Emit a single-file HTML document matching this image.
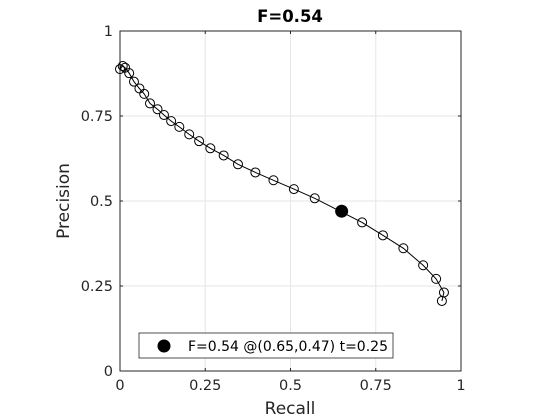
<!DOCTYPE html>
<html><head><meta charset="utf-8"><style>
body{margin:0;background:#fff;}
svg{display:block;font-family:"DejaVu Sans","Liberation Sans",sans-serif;}
</style></head><body>
<svg id="chart" width="560" height="420" viewBox="0 0 560 420" xmlns="http://www.w3.org/2000/svg">
<rect width="560" height="420" fill="#fff"/>
<g id="grid"></g>
<g id="axes"></g>
<g id="marks"></g>
<text x="290" y="22" text-anchor="middle" font-size="16.5" font-weight="bold">F=0.54</text>
<text x="290" y="414" text-anchor="middle" font-size="17" fill="#262626">Recall</text>
<text transform="translate(69,201) rotate(-90)" text-anchor="middle" font-size="17" fill="#262626">Precision</text>
<g>
<rect x="139" y="333" width="254" height="25" fill="#fff" stroke="#262626" stroke-width="0.8"/>
<circle cx="164" cy="346" r="6.5" fill="#000"/>
<text x="188" y="351" font-size="14" textLength="200" fill="#000">F=0.54 @(0.65,0.47) t=0.25</text>
</g>
</svg>
<script>
const recall=[0.000,0.008,0.015,0.027,0.041,0.057,0.071,0.088,0.110,0.129,0.150,0.174,0.203,0.232,0.265,0.304,0.346,0.397,0.450,0.510,0.571,0.710,0.771,0.831,0.889,0.927,0.950,0.944];
const precision=[0.888,0.897,0.892,0.876,0.851,0.831,0.815,0.787,0.770,0.753,0.735,0.718,0.696,0.676,0.655,0.634,0.608,0.584,0.561,0.535,0.508,0.437,0.399,0.361,0.311,0.271,0.231,0.206];
const bestPoint=[0.65,0.47];
const ticks=[0,0.25,0.5,0.75,1];
const tickLabels=["0","0.25","0.5","0.75","1"];
const NS="http://www.w3.org/2000/svg";
const X0=120,X1=461,Y0=371,Y1=31;
const sx=v=>X0+v*(X1-X0), sy=v=>Y0-v*(Y0-Y1);
function mk(t,a,p){const e=document.createElementNS(NS,t);for(const k in a)e.setAttribute(k,a[k]);p.appendChild(e);return e;}
const grid=document.getElementById('grid'),axes=document.getElementById('axes'),marks=document.getElementById('marks');
ticks.forEach((t,i)=>{
  const gx=mk('line',{x1:sx(t),x2:sx(t),y1:Y0,y2:Y1,stroke:'#e6e6e6','stroke-width':1},grid);
  
  
  const gy=mk('line',{x1:X0,x2:X1,y1:sy(t),y2:sy(t),stroke:'#e6e6e6','stroke-width':1},grid);
  
  
  const xl=mk('text',{x:sx(t),y:Y0+19,'text-anchor':'middle','font-size':14.5,fill:'#262626'},axes);
  xl.textContent=tickLabels[i];
  
  
  const yl=mk('text',{x:X0-7,y:sy(t)+5,'text-anchor':'end','font-size':14.5,fill:'#262626'},axes);
  yl.textContent=tickLabels[i];
  
  
  mk('line',{x1:sx(t),x2:sx(t),y1:Y0,y2:Y0-3,stroke:'#262626'},axes);
  mk('line',{x1:sx(t),x2:sx(t),y1:Y1,y2:Y1+3,stroke:'#262626'},axes);
  mk('line',{x1:X0,x2:X0+3,y1:sy(t),y2:sy(t),stroke:'#262626'},axes);
  mk('line',{x1:X1,x2:X1-3,y1:sy(t),y2:sy(t),stroke:'#262626'},axes);
});
const box=mk('rect',{x:X0,y:Y1,width:X1-X0,height:Y0-Y1,fill:'none',stroke:'#262626','stroke-width':1},axes);


const pts=recall.map((r,i)=>sx(r).toFixed(1)+','+sy(precision[i]).toFixed(1)).join(' ');
const line=mk('polyline',{points:pts,fill:'none',stroke:'#000','stroke-width':1},marks);


recall.forEach((r,i)=>{
  const c=mk('circle',{cx:sx(r),cy:sy(precision[i]),r:4.5,fill:'none',stroke:'#000','stroke-width':1},marks);
  
  
});
const b=mk('circle',{cx:sx(bestPoint[0]),cy:sy(bestPoint[1]),r:6.5,fill:'#000'},marks);


</script>
</body></html>
